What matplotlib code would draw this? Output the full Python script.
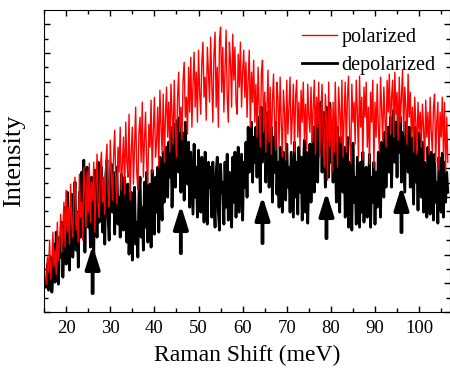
import numpy as np
import matplotlib
matplotlib.use("Agg")
import matplotlib.pyplot as plt
from matplotlib.ticker import MultipleLocator, NullFormatter

plt.rcParams['font.family'] = ['Liberation Serif', 'DejaVu Serif']

# Raman shift grid (meV), 0.25 meV steps from 15.5 to 106.5 (365 points)
shift = np.arange(15.5, 106.6, 0.25)

polarized = [
    28, 55, 40, 72, 33, 48, 80, 45, 62, 38,
    90, 52, 70, 98, 60, 85, 110, 65, 122, 80,
    105, 68, 128, 90, 75, 118, 135, 82, 100, 70,
    138, 95, 110, 72, 145, 120, 85, 140, 100, 149,
    90, 130, 112, 150, 80, 125, 158, 105, 95, 145,
    160, 110, 135, 98, 150, 168, 120, 105, 172, 140,
    112, 155, 182, 130, 108, 165, 140, 185, 122, 150,
    175, 118, 190, 150, 135, 198, 112, 160, 185, 128,
    165, 205, 140, 122, 180, 195, 150, 210, 135, 172,
    200, 148, 128, 188, 165, 212, 140, 180, 215, 155,
    170, 205, 145, 222, 185, 160, 218, 150, 195, 225,
    175, 210, 160, 228, 198, 168, 232, 185, 155, 215,
    240, 180, 205, 172, 232, 250, 195, 215, 178, 245,
    200, 255, 185, 228, 260, 205, 240, 190, 262, 220,
    198, 250, 270, 215, 235, 192, 265, 240, 210, 275,
    230, 190, 258, 280, 205, 245, 185, 272, 285, 220,
    265, 200, 240, 282, 215, 190, 270, 250, 205, 278,
    232, 265, 210, 198, 258, 225, 270, 205, 240, 262,
    215, 250, 195, 232, 262, 185, 240, 210, 252, 190,
    228, 175, 245, 205, 165, 238, 252, 180, 220, 160,
    200, 242, 170, 225, 158, 210, 238, 185, 162, 230,
    215, 165, 235, 190, 155, 222, 200, 152, 232, 178,
    205, 235, 168, 195, 228, 160, 215, 232, 175, 210,
    165, 222, 190, 230, 172, 208, 162, 228, 195, 180,
    225, 170, 205, 232, 158, 215, 185, 230, 155, 200,
    228, 170, 145, 218, 190, 132, 230, 165, 205, 140,
    210, 160, 230, 185, 145, 225, 200, 170, 232, 155,
    195, 230, 160, 215, 236, 175, 150, 228, 190, 210,
    168, 232, 200, 155, 236, 185, 215, 152, 225, 195,
    230, 165, 205, 148, 220, 190, 232, 145, 210, 175,
    228, 185, 160, 235, 205, 172, 225, 195, 165, 232,
    200, 238, 178, 215, 232, 175, 240, 198, 220, 172,
    235, 190, 215, 242, 180, 225, 205, 168, 238, 195,
    220, 175, 205, 160, 215, 190, 158, 210, 180, 200,
    165, 208, 185, 152, 212, 175, 200, 158, 215, 180,
    160, 205, 218, 150, 190, 210, 142, 200, 175, 215,
    160, 210, 140, 195, 150,
]

depolarized = [
    25, 48, 22, 40, 55, 20, 35, 68, 30, 80,
    45, 28, 75, 55, 90, 35, 65, 105, 48, 120,
    70, 42, 95, 118, 55, 80, 130, 62, 100, 45,
    120, 75, 140, 95, 152, 60, 125, 145, 85, 110,
    65, 135, 100, 58, 142, 120, 75, 150, 90, 128,
    145, 80, 110, 68, 138, 152, 95, 72, 130, 148,
    100, 140, 78, 125, 145, 88, 115, 75, 138, 105,
    82, 135, 110, 70, 128, 58, 95, 120, 52, 100,
    125, 68, 90, 55, 118, 135, 75, 105, 62, 130,
    85, 140, 70, 110, 128, 65, 142, 95, 78, 135,
    100, 145, 80, 155, 120, 92, 160, 110, 140, 165,
    115, 170, 135, 185, 105, 160, 188, 125, 175, 192,
    140, 195, 120, 180, 165, 112, 190, 150, 128, 170,
    105, 160, 130, 98, 168, 115, 145, 95, 162, 125,
    100, 155, 135, 90, 160, 115, 88, 150, 125, 145,
    95, 150, 110, 85, 140, 155, 100, 82, 148, 120,
    130, 88, 150, 105, 158, 92, 140, 118, 85, 155,
    110, 160, 95, 140, 165, 100, 128, 158, 92, 150,
    125, 170, 115, 185, 140, 160, 190, 130, 175, 150,
    185, 135, 195, 160, 120, 205, 150, 180, 209, 130,
    170, 200, 125, 160, 185, 110, 175, 140, 190, 118,
    150, 105, 165, 130, 100, 160, 140, 112, 168, 125,
    145, 100, 160, 128, 95, 170, 115, 150, 98, 165,
    120, 155, 92, 140, 172, 100, 160, 89, 135, 168,
    110, 150, 185, 120, 170, 205, 130, 190, 160, 210,
    140, 200, 165, 125, 205, 180, 135, 209, 150, 190,
    130, 195, 160, 110, 185, 140, 100, 175, 150, 120,
    165, 95, 140, 175, 85, 150, 120, 82, 169, 110,
    135, 88, 155, 120, 85, 150, 100, 160, 90, 130,
    145, 95, 120, 158, 85, 135, 110, 150, 88, 140,
    105, 160, 130, 95, 170, 140, 115, 180, 125, 165,
    185, 140, 195, 125, 175, 202, 150, 190, 135, 200,
    160, 195, 130, 180, 150, 120, 190, 165, 140, 185,
    125, 175, 150, 108, 185, 130, 160, 102, 179, 140,
    115, 170, 100, 150, 135, 95, 165, 120, 98, 160,
    140, 92, 158, 110, 130, 89, 155, 120, 100, 159,
    95, 150, 110, 140, 120,
]

# Arrow markers: position (meV), tail and head intensity
arrow_pos = [26, 46, 64.5, 79, 96]
arrow_tail = [19, 59, 69, 74, 80]
arrow_head = [67, 107, 116, 120, 126]

fig = plt.figure(figsize=(4.5, 3.77), dpi=100)
ax = fig.add_axes([0.098, 0.172, 0.902, 0.801])

ax.plot(shift, depolarized, color='black', lw=2.0, label='depolarized', zorder=2)
ax.plot(shift, polarized, color='red', lw=1.0, label='polarized', zorder=3)

for xp, t, h in zip(arrow_pos, arrow_tail, arrow_head):
    ax.annotate('', xy=(xp, h), xytext=(xp, t),
                arrowprops=dict(arrowstyle='-|>,head_length=0.7,head_width=0.22',
                                color='black', lw=2.8, mutation_scale=20,
                                shrinkA=0, shrinkB=0), zorder=4)

ax.set_xlim(15, 107)
ax.set_ylim(0, 302)
ax.xaxis.set_major_locator(MultipleLocator(10))
ax.xaxis.set_minor_locator(MultipleLocator(5))
ax.yaxis.set_major_locator(MultipleLocator(28.8))
ax.yaxis.set_minor_locator(MultipleLocator(14.4))
ax.yaxis.set_major_formatter(NullFormatter())
ax.tick_params(which='both', direction='in', top=True, right=True, labelsize=13.5)
ax.tick_params(which='major', length=4, width=1, pad=6)
ax.tick_params(which='minor', length=3, width=1)

ax.set_xlabel('Raman Shift (meV)', fontsize=17, labelpad=5)
ax.set_ylabel('Intensity', fontsize=19, labelpad=8)

h, l = ax.get_legend_handles_labels()
leg = ax.legend([h[1], h[0]], [l[1], l[0]], loc='upper right', frameon=False,
                fontsize=14.5, handlelength=1.7, handletextpad=0.25,
                labelspacing=0.45, borderaxespad=0.0, bbox_to_anchor=(0.985, 0.968))

fig.savefig('out.png', dpi=100)
